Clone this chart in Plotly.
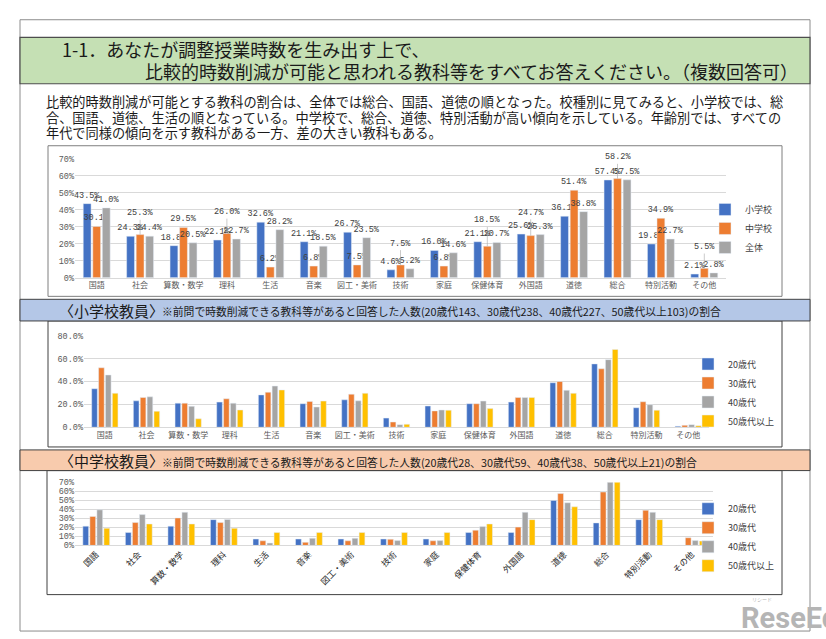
import plotly.graph_objects as go

# ---------------- data ----------------
categories = ["国語", "社会", "算数・数学", "理科", "生活", "音楽", "図工・美術", "技術",
              "家庭", "保健体育", "外国語", "道徳", "総合", "特別活動", "その他"]

# Chart 1: by school type (%)
school_names = ["小学校", "中学校", "全体"]
elementary = [43.5, 24.3, 18.8, 22.1, 32.6, 21.1, 26.7, 4.6, 16.0, 21.1, 25.6, 36.1, 57.4, 19.8, 2.1]
junior_high = [30.1, 25.3, 29.5, 26.0, 6.2, 6.8, 7.5, 7.5, 6.8, 18.5, 24.7, 51.4, 58.2, 34.9, 5.5]
overall = [41.0, 24.4, 20.5, 22.7, 28.2, 18.5, 23.5, 5.2, 14.6, 20.7, 25.3, 38.8, 57.5, 22.7, 2.8]

age_names = ["20歳代", "30歳代", "40歳代", "50歳代以上"]

# Chart 2: elementary school teachers by age (%)
elem_20s = [33.7, 23.1, 21.1, 22.0, 28.3, 20.6, 24.0, 8.0, 18.6, 20.6, 22.0, 38.9, 55.4, 17.1, 0.9]
elem_30s = [52.0, 26.0, 21.1, 24.9, 30.6, 22.6, 28.9, 4.6, 14.3, 20.6, 26.0, 40.0, 51.1, 22.3, 1.7]
elem_40s = [45.7, 26.6, 18.3, 21.1, 36.0, 17.7, 23.1, 2.3, 15.1, 22.9, 26.0, 32.3, 59.1, 19.7, 2.3]
elem_50s = [29.7, 14.0, 7.4, 15.1, 32.6, 22.9, 29.7, 2.6, 14.9, 16.3, 26.0, 29.7, 68.0, 14.9, 1.4]

# Chart 3: junior high school teachers by age (%)
jr_20s = [21.4, 14.3, 21.4, 28.6, 7.1, 7.1, 7.1, 7.1, 7.1, 14.3, 14.3, 50.0, 25.0, 28.6, 0.0]
jr_30s = [32.2, 25.4, 30.5, 25.4, 5.1, 3.4, 5.1, 6.8, 5.1, 16.9, 20.3, 57.6, 59.3, 39.0, 8.5]
jr_40s = [39.5, 34.2, 36.8, 28.9, 2.6, 7.9, 7.9, 5.3, 5.3, 21.1, 36.8, 47.4, 73.7, 36.8, 5.3]
jr_50s = [19.0, 23.8, 23.8, 19.0, 14.3, 14.3, 14.3, 14.3, 14.3, 23.8, 28.6, 42.9, 76.2, 28.6, 4.8]

title_line1 = "1-1．あなたが調整授業時数を生み出す上で、"
title_line2 = "比較的時数削減が可能と思われる教科等をすべてお答えください。（複数回答可）"
summary_lines = [
    "比較的時数削減が可能とする教科の割合は、全体では総合、国語、道徳の順となった。校種別に見てみると、小学校では、総",
    "合、国語、道徳、生活の順となっている。中学校で、総合、道徳、特別活動が高い傾向を示している。年齢別では、すべての",
    "年代で同様の傾向を示す教科がある一方、差の大きい教科もある。",
]
elem_head = "〈小学校教員〉"
elem_note = "※前問で時数削減できる教科等があると回答した人数(20歳代143、30歳代238、40歳代227、50歳代以上103)の割合"
jr_head = "〈中学校教員〉"
jr_note = "※前問で時数削減できる教科等があると回答した人数(20歳代28、30歳代59、40歳代38、50歳代以上21)の割合"

# ---------------- styling ----------------
W, H = 826, 639
def X(p): return p / W
def Y(p): return 1 - p / H

COLORS = ["#4472c4", "#ed7d31", "#a5a5a5", "#ffc000"]
JP = "Noto Sans CJK JP"
MONO = "Liberation Mono"
GRID = "#d9d9d9"
TXT = "#404040"

fig = go.Figure()

# ---------- chart 1 ----------
raised = []
orange_text = []
for k in range(len(categories)):
    b, o, g = elementary[k], junior_high[k], overall[k]
    if o < min(b, g) - 5 or o - max(b, g) >= 5:
        raised.append(False)
        orange_text.append(f"{o:.1f}%")
    else:
        raised.append(True)
        orange_text.append("")

for i, (name, vals) in enumerate(zip(school_names, [elementary, junior_high, overall])):
    txt = [f"{v:.1f}%" for v in vals] if i != 1 else orange_text
    fig.add_trace(go.Bar(
        x=categories, y=vals, name=name, marker_color=COLORS[i],
        xaxis="x", yaxis="y", legend="legend",
        text=txt, textposition="outside", constraintext="none", cliponaxis=False,
        textfont=dict(family=MONO, size=8.5, color=TXT),
    ))

annotations = []
for k, cat in enumerate(categories):
    if raised[k]:
        top = max(elementary[k], junior_high[k], overall[k])
        annotations.append(dict(
            x=cat, y=junior_high[k], xref="x", yref="y",
            ax=cat, ay=top + 12.5, axref="x", ayref="y",
            text=f"{junior_high[k]:.1f}%", showarrow=True, arrowhead=0,
            arrowwidth=0.6, arrowcolor="#a6a6a6", standoff=0,
            font=dict(family=MONO, size=8.5, color=TXT),
        ))

# ---------- chart 2 ----------
for i, (name, vals) in enumerate(zip(age_names, [elem_20s, elem_30s, elem_40s, elem_50s])):
    fig.add_trace(go.Bar(
        x=categories, y=vals, name=name, marker_color=COLORS[i],
        xaxis="x2", yaxis="y2", legend="legend2",
    ))

# ---------- chart 3 ----------
for i, (name, vals) in enumerate(zip(age_names, [jr_20s, jr_30s, jr_40s, jr_50s])):
    fig.add_trace(go.Bar(
        x=categories, y=vals, name=name, marker_color=COLORS[i],
        xaxis="x3", yaxis="y3", legend="legend3",
    ))

# ---------- decorations ----------
shapes = [
    # page frame
    dict(type="rect", xref="paper", yref="paper", x0=X(20), x1=X(810), y0=Y(637), y1=Y(16),
         line=dict(color="#8c8c8c", width=1), fillcolor="rgba(0,0,0,0)", layer="below"),
    # green title band
    dict(type="rect", xref="paper", yref="paper", x0=X(20), x1=X(810), y0=Y(81), y1=Y(34),
         line=dict(color="#4d4d4d", width=1.2), fillcolor="#c5e0b4", layer="below"),
    # chart frames
    dict(type="rect", xref="paper", yref="paper", x0=X(48), x1=X(782), y0=Y(297), y1=Y(144),
         line=dict(color="#7f7f7f", width=1), fillcolor="white", layer="below"),
    dict(type="rect", xref="paper", yref="paper", x0=X(48), x1=X(782), y0=Y(450), y1=Y(322),
         line=dict(color="#404040", width=1), fillcolor="white", layer="below"),
    dict(type="rect", xref="paper", yref="paper", x0=X(47), x1=X(782), y0=Y(600), y1=Y(474),
         line=dict(color="#404040", width=1), fillcolor="white", layer="below"),
    # section bands
    dict(type="rect", xref="paper", yref="paper", x0=X(20), x1=X(810), y0=Y(322), y1=Y(300),
         line=dict(color="#404040", width=1), fillcolor="#b4c7e7", layer="below"),
    dict(type="rect", xref="paper", yref="paper", x0=X(20), x1=X(810), y0=Y(474), y1=Y(453),
         line=dict(color="#404040", width=1), fillcolor="#f8cbad", layer="below"),
]

def txt(x, y, s, size, color="#1a1a1a", family=JP, anchor="left"):
    return dict(x=X(x), y=Y(y), xref="paper", yref="paper", text=s, showarrow=False,
                xanchor=anchor, yanchor="middle", font=dict(family=family, size=size, color=color))

annotations += [
    txt(60, 46, title_line1, 18),
    txt(143, 68, title_line2, 18),
    txt(44, 99, summary_lines[0], 13.2),
    txt(44, 115, summary_lines[1], 13.2),
    txt(44, 131, summary_lines[2], 13.2),
    txt(57, 311, elem_head, 15),
    txt(160, 312, elem_note, 10.8),
    txt(57, 464, jr_head, 15),
    txt(160, 465, jr_note, 10.8),
    dict(x=X(739), y=Y(624), xref="paper", yref="paper", text="<b>ReseEd</b>", showarrow=False,
         xanchor="left", yanchor="middle", font=dict(family="Roboto", size=29, color="#b5b5b5")),
    dict(x=X(762), y=Y(604), xref="paper", yref="paper", text="リシード", showarrow=False,
         xanchor="center", yanchor="middle", font=dict(family=JP, size=5, color="#b5b5b5")),
]

xcommon = dict(showgrid=False, showline=True, linecolor=GRID, linewidth=1, ticks="",
               tickfont=dict(family=JP, size=8, color="#595959"), fixedrange=True)
ycommon = dict(showgrid=True, gridcolor=GRID, gridwidth=1, zeroline=False, showline=False,
               ticks="", tickfont=dict(family=MONO, size=8.5, color="#595959"), fixedrange=True)

legcommon = dict(xanchor="left", yanchor="top", bgcolor="rgba(0,0,0,0)",
                 font=dict(family=JP, size=9, color=TXT), itemclick=False, tracegroupgap=0)

fig.update_layout(
    width=W, height=H, margin=dict(l=0, r=0, t=0, b=0),
    paper_bgcolor="white", plot_bgcolor="white",
    barmode="group", bargap=0.34, bargroupgap=0.18,
    showlegend=True,
    xaxis=dict(domain=[X(75), X(726)], anchor="y", **xcommon),
    yaxis=dict(domain=[Y(278), Y(157)], anchor="x", range=[0, 70], dtick=10, ticksuffix="%", **ycommon),
    xaxis2=dict(domain=[X(84), X(709)], anchor="y2", **xcommon),
    yaxis2=dict(domain=[Y(430), Y(337)], anchor="x2", range=[0, 80], dtick=20, tickformat=".1f",
                ticksuffix="%", **ycommon),
    xaxis3=dict(domain=[X(75), X(713)], anchor="y3", tickangle=-45,
                **{**xcommon, "tickfont": dict(family=JP, size=8.5, color="#262626")}),
    yaxis3=dict(domain=[Y(550), Y(486)], anchor="x3", range=[0, 70], dtick=10, ticksuffix="%", **ycommon),
    legend=dict(x=X(705), y=Y(194), **legcommon),
    legend2=dict(x=X(688), y=Y(351), **legcommon),
    legend3=dict(x=X(688), y=Y(498), **legcommon),
    shapes=shapes,
    annotations=annotations,
)

fig.write_html("out.html")
